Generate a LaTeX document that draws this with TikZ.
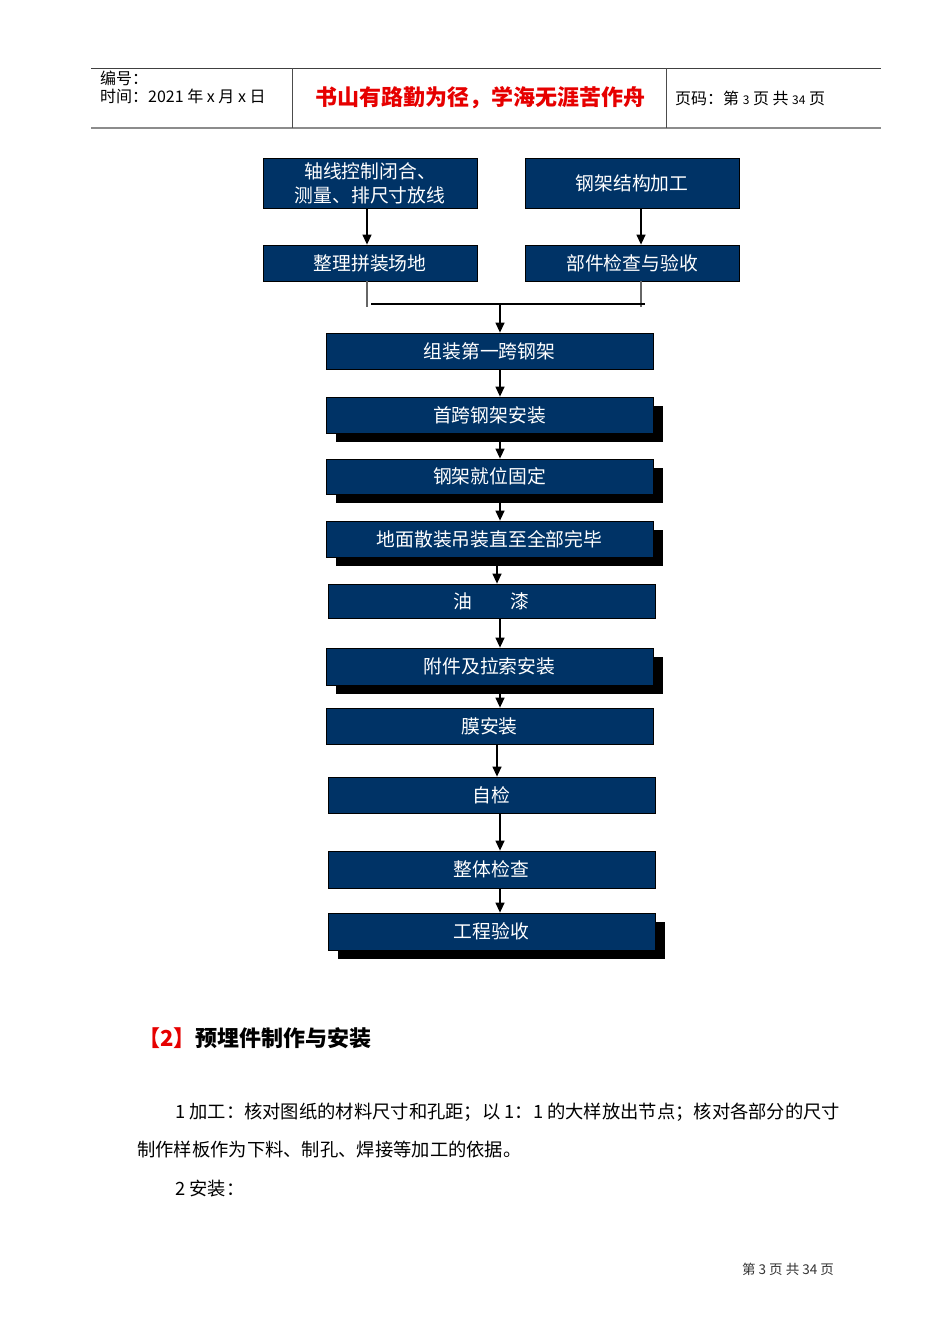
\documentclass[tikz,border=0pt]{standalone}
\usepackage{fontspec}
\setmainfont{Noto Sans CJK SC}
\usetikzlibrary{arrows.meta,shadows}
\definecolor{boxblue}{RGB}{0,51,102}
\definecolor{headred}{RGB}{230,0,0}
\tikzset{
  flowbox/.style={draw=black, fill=boxblue, text=white, inner sep=0pt,
    minimum width=327pt, minimum height=36pt, line width=0.8pt,
    font=\fontsize{18.8}{24}\selectfont, align=center},
  topbox/.style={flowbox, minimum width=214pt},
  shadowed/.style={drop shadow={shadow xshift=10pt, shadow yshift=-9pt,
    fill=black, opacity=1}},
  headtext/.style={anchor=west, inner sep=0pt, font=\fontsize{16}{18}\selectfont},
  bodytext/.style={anchor=west, inner sep=0pt, font=\fontsize{18.3}{20}\selectfont},
  link/.style={line width=1.3pt},
}

\begin{document}
\begin{tikzpicture}[x=1pt, y=-1pt, >={Triangle[length=10pt,width=9pt]}]
\useasboundingbox (0,0) rectangle (950,1344);

% header
\draw[line width=0.8pt, black!75] (91,68) -- (881,68);
\draw[line width=2pt, black!45] (91,128) -- (881,128);
\draw[line width=0.8pt, black!70] (292,68) -- (292,128);
\draw[line width=0.8pt, black!70] (666,68) -- (666,128);
\node[headtext] (bianhao) at (100,78) {编号：};
\node[headtext] (shijian) at (100,96) {时间：2021 年 x 月 x 日};
\node[font=\fontsize{22}{24}\selectfont\bfseries, text=headred, inner sep=0pt] (motto) at (480,98)
  {书山有路勤为径，学海无涯苦作舟};
\node[headtext] (yema) at (675,98) {页码：第 {\fontsize{12}{14}\selectfont 3} 页 共 {\fontsize{12}{14}\selectfont 34} 页};

% flow chart
\node[topbox, minimum height=50pt] (survey) at (370,183) {轴线控制闭合、\\测量、排尺寸放线};
\node[topbox, minimum height=50pt] (fab) at (632,183) {钢架结构加工};
\node[topbox] (site) at (370,263) {整理拼装场地};
\node[topbox] (check) at (632,263) {部件检查与验收};
\node[flowbox] (first) at (489.5,351) {组装第一跨钢架};
\node[flowbox, shadowed] (install) at (489.5,415) {首跨钢架安装};
\node[flowbox, shadowed, minimum height=35pt] (fix) at (489.5,476.5) {钢架就位固定};
\node[flowbox, shadowed] (erect) at (489.5,539) {地面散装吊装直至全部完毕};
\node[flowbox, minimum height=34pt] (paint) at (491.5,601) {油\qquad 漆};
\node[flowbox, shadowed, minimum height=37pt] (cable) at (489.5,666.5) {附件及拉索安装};
\node[flowbox] (membrane) at (489.5,726) {膜安装};
\node[flowbox] (selfchk) at (491.5,795) {自检};
\node[flowbox, minimum height=37pt] (overall) at (491.5,869.5) {整体检查};
\node[flowbox, shadowed, minimum height=37pt] (accept) at (491.5,931.5) {工程验收};

\coordinate (lx) at (367,307);
\coordinate (rx) at (641,307);
\coordinate (jl) at (371,304);
\coordinate (jr) at (645,304);
\coordinate (jm) at (500,304);
\coordinate (mx) at (500,0);
\coordinate (px) at (497,0);

\draw[->, link] (survey.south -| lx) -- (site.north -| lx);
\draw[->, link] (fab.south -| rx) -- (check.north -| rx);
\draw[black!60, link] (site.south -| lx) -- (lx);
\draw[black!60, link] (check.south -| rx) -- (rx);
\draw[link] (jl) -- (jr);
\draw[->, link] (jm) -- (first.north -| jm);
\draw[->, link] (first.south -| mx) -- (install.north -| mx);
\draw[->, link] (install.south -| mx) -- (fix.north -| mx);
\draw[->, link] (fix.south -| mx) -- (erect.north -| mx);
\draw[->, link] (erect.south -| px) -- (paint.north -| px);
\draw[->, link] (paint.south -| mx) -- (cable.north -| mx);
\draw[->, link] (cable.south -| mx) -- (membrane.north -| mx);
\draw[->, link] (membrane.south -| px) -- (selfchk.north -| px);
\draw[->, link] (selfchk.south -| mx) -- (overall.north -| mx);
\draw[->, link] (overall.south -| mx) -- (accept.north -| mx);

% text below
\node[anchor=west, inner sep=0pt, font=\fontsize{22}{24}\selectfont\bfseries] (heading) at (138,1038)
  {\textcolor{headred}{【2】}预埋件制作与安装};
\node[bodytext] (para1) at (175,1112) {1 加工：核对图纸的材料尺寸和孔距；以 1：1 的大样放出节点；核对各部分的尺寸};
\node[bodytext] (para2) at (137,1150) {制作样板作为下料、制孔、焊接等加工的依据。};
\node[bodytext] (para3) at (175,1189) {2 安装：};
\node[anchor=west, inner sep=0pt, font=\fontsize{13.5}{15}\selectfont, text=black!80] (footer) at (742,1269)
  {第 3 页 共 34 页};
\end{tikzpicture}
\end{document}
